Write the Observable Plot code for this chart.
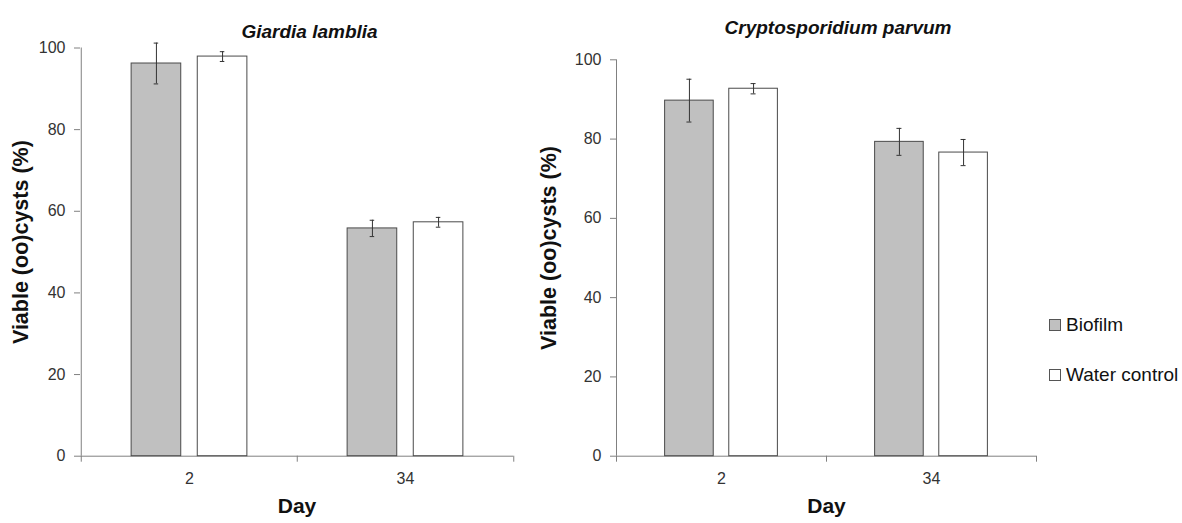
<!DOCTYPE html>
<html><head><meta charset="utf-8">
<script src="https://cdn.jsdelivr.net/npm/d3@7"></script>
<script src="https://cdn.jsdelivr.net/npm/@observablehq/plot@0.6"></script>
<style>
body{margin:0;background:#fff;font-family:"Liberation Sans",Arial,sans-serif;}
#wrap{position:relative;width:1182px;height:523px;overflow:hidden;background:#fff;}
.panel{position:absolute;top:0;}
.item{position:absolute;left:1049px;height:22px;line-height:22px;display:flex;align-items:center;white-space:nowrap;font-size:19px;color:#111;}
.sw{width:12px;height:12px;border:1px solid #555;margin-right:5px;box-sizing:border-box;}
</style></head>
<body><div id="wrap"></div>
<script>
// ---- data ----
const days = ["2", "34"];
const seriesNames = ["Biofilm", "Water control"];
const seriesFill = ["#c0c0c0", "#ffffff"];
const yTicks = [0, 20, 40, 60, 80, 100];
const titles = ["Giardia lamblia", "Cryptosporidium parvum"];
const yLabel = "Viable (oo)cysts (%)";
const xLabel = "Day";

const giardiaBiofilm = [96.2, 55.8];
const giardiaBiofilmErr = [5.0, 2.0];
const giardiaWater = [97.9, 57.3];
const giardiaWaterErr = [1.2, 1.2];

const cryptoBiofilm = [89.7, 79.3];
const cryptoBiofilmErr = [5.4, 3.4];
const cryptoWater = [92.7, 76.6];
const cryptoWaterErr = [1.3, 3.3];

const FONT = '"Liberation Sans", Arial, sans-serif';

function panel(o) {
  const rows = [];
  days.forEach((d, i) => {
    rows.push({day: d, s: 0, value: o.biofilm[i], err: o.biofilmErr[i]});
    rows.push({day: d, s: 1, value: o.water[i], err: o.waterErr[i]});
  });
  const bw = (o.width - o.mL - o.mR) / days.length;
  const outer = 0.2315 * bw, bar = 0.2315 * bw, gap = 0.074 * bw;
  const lefts = [outer, outer + bar + gap];
  const centers = lefts.map(l => l + bar / 2);
  const cap = 2.5;
  const marks = [];
  marks.push(Plot.ruleY([0], {stroke: "#808080"}));
  marks.push(Plot.ruleX([days[0]], {x: d => d, y1: 0, y2: 100, dx: -bw / 2, stroke: "#808080"}));
  marks.push(Plot.ruleX(days, {x: d => d, y1: 0, y2: 0, dx: -bw / 2, insetBottom: -6, stroke: "#808080"}));
  marks.push(Plot.ruleX([days[days.length - 1]], {x: d => d, y1: 0, y2: 0, dx: bw / 2, insetBottom: -6, stroke: "#808080"}));
  for (const s of [0, 1]) {
    const rs = rows.filter(r => r.s === s);
    marks.push(Plot.barY(rs, {x: "day", y: "value", fill: seriesFill[s], stroke: "#4a4a4a", strokeWidth: 1,
      insetLeft: lefts[s], insetRight: bw - lefts[s] - bar}));
    marks.push(Plot.ruleX(rs, {x: "day", y1: r => r.value - r.err, y2: r => r.value + r.err,
      dx: centers[s] - bw / 2, stroke: "#333"}));
    marks.push(Plot.tickY(rs, {x: "day", y: r => r.value - r.err, insetLeft: centers[s] - cap,
      insetRight: bw - centers[s] - cap, stroke: "#333"}));
    marks.push(Plot.tickY(rs, {x: "day", y: r => r.value + r.err, insetLeft: centers[s] - cap,
      insetRight: bw - centers[s] - cap, stroke: "#333"}));
  }
  marks.push(Plot.axisY({ticks: yTicks, tickSize: 6, tickPadding: 9, stroke: "#808080", fill: "#333",
    label: null, fontSize: 16, tickFormat: d => String(d)}));
  marks.push(Plot.text(days, {x: d => d, text: d => d, frameAnchor: "bottom", dy: 27.5, fontSize: 16, fill: "#333"}));
  marks.push(Plot.text([xLabel], {text: d => d, frameAnchor: "bottom", dy: 56.5, fontSize: 21, fontWeight: "bold", fill: "#111"}));
  marks.push(Plot.text([yLabel], {text: d => d, frameAnchor: "left", textAnchor: "middle", rotate: -90, dx: o.ylDx, dy: o.ylDy,
    fontSize: 21.5, fontWeight: "bold", fill: "#111"}));
  marks.push(Plot.text([o.title], {text: d => d, frameAnchor: "top", dx: o.tDx, dy: o.tDy,
    fontSize: 19, fontWeight: "bold", fontStyle: "italic", fill: "#111"}));

  const chart = Plot.plot({
    width: o.width, height: 523,
    marginLeft: o.mL, marginRight: o.mR, marginTop: o.mT, marginBottom: o.mB,
    style: {fontFamily: FONT, fontSize: "16px", background: "transparent", overflow: "visible", color: "#333"},
    x: {type: "band", domain: days, padding: 0, axis: null},
    y: {domain: [0, 100], axis: null},
    marks
  });
  const div = document.createElement("div");
  div.className = "panel";
  div.style.left = o.left + "px";
  div.appendChild(chart);
  document.getElementById("wrap").appendChild(div);
}

panel({title: titles[0], biofilm: giardiaBiofilm, biofilmErr: giardiaBiofilmErr, water: giardiaWater, waterErr: giardiaWaterErr,
  left: 0, width: 540, mL: 80, mR: 27, mT: 47.5, mB: 67.3, tDx: 12.5, tDy: -24, ylDx: -59, ylDy: -10});
panel({title: titles[1], biofilm: cryptoBiofilm, biofilmErr: cryptoBiofilmErr, water: cryptoWater, waterErr: cryptoWaterErr,
  left: 540, width: 642, mL: 76, mR: 146, mT: 59.3, mB: 67.3, tDx: 11.5, tDy: -39.5, ylDx: -67.7, ylDy: -10});

// legend
const legendCenters = [325, 374.5];
seriesNames.forEach((name, i) => {
  const it = document.createElement("div");
  it.className = "item";
  it.style.top = (legendCenters[i] - 11) + "px";
  const sw = document.createElement("span");
  sw.className = "sw";
  sw.style.background = seriesFill[i];
  const tx = document.createElement("span");
  tx.textContent = name;
  it.appendChild(sw); it.appendChild(tx);
  document.getElementById("wrap").appendChild(it);
});
</script>
</body></html>
